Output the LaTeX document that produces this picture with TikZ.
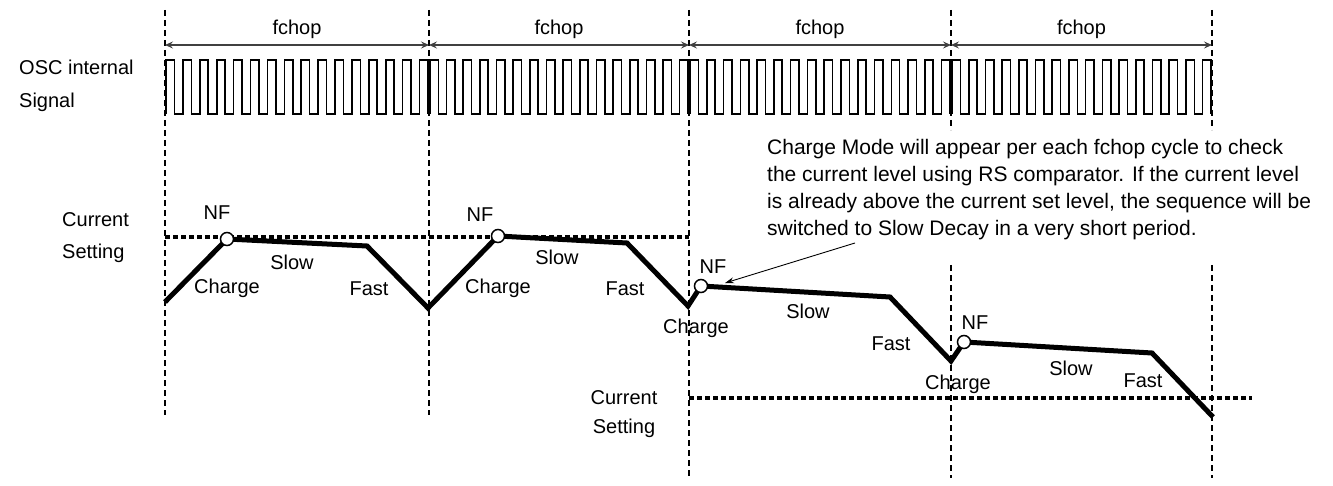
\documentclass[tikz,border=0pt]{standalone}
\usepackage{fontspec}
\setmainfont{Liberation Sans}
\usetikzlibrary{arrows.meta,
                positioning}

\begin{document}
\begin{tikzpicture}[
        x=1pt, y=-1pt,
        every node/.style={font=\fontsize{20}{24}\selectfont},
        sidetext/.style={font=\fontsize{20}{#1}\selectfont, align=left, inner sep=0pt},
        sidetext/.default=32,
        phase/.style={inner sep=0pt, anchor=base},
        divline/.style={line width=1.1pt, dash pattern=on 6pt off 4pt},
        chopspan/.style={{Stealth[length=8pt, width=7pt, inset=3pt]}-{Stealth[length=8pt, width=7pt, inset=3pt]}, line width=1.4pt, draw=black!75},
        oscwave/.style={line width=1.6pt},
        curve/.style={line width=5pt},
        setline/.style={line width=3.5pt, dash pattern=on 4.5pt off 3.5pt},
        nfmark/.style={circle, draw, fill=white, line width=1.5pt, minimum size=13pt, inner sep=0pt},
        notebox/.style={align=left, inner sep=0pt, font=\fontsize{21}{27}\selectfont},
        callout/.style={-{Stealth[length=9pt, width=6pt]}, line width=0.9pt}
        ]

        \useasboundingbox (0,0) rectangle (1333,486);

        % chop period boundaries
        \foreach \x/\yb in {165/415, 429/415, 689/478} {
            \draw [divline] (\x,10) -- (\x,\yb);
        }
        \foreach \x in {951, 1212} {
            \draw [divline] (\x,10) -- (\x,130);
            \draw [divline] (\x,265) -- (\x,478);
        }

        % fchop spans
        \coordinate (chop0) at (165,45);
        \coordinate (chop1) at (429,45);
        \coordinate (chop2) at (689,45);
        \coordinate (chop3) at (951,45);
        \coordinate (chop4) at (1212,45);
        \draw [chopspan] (chop0) -- node (fchop1) [anchor=base, yshift=10pt] {fchop} (chop1);
        \draw [chopspan] (chop1) -- node (fchop2) [anchor=base, yshift=10pt] {fchop} (chop2);
        \draw [chopspan] (chop2) -- node (fchop3) [anchor=base, yshift=10pt] {fchop} (chop3);
        \draw [chopspan] (chop3) -- node (fchop4) [anchor=base, yshift=10pt] {fchop} (chop4);

        % OSC internal signal
        \node (osc) [sidetext=33, anchor=west] at (19,85.5) {OSC internal\\Signal};
        \foreach \xa/\xb in {166/428, 430/688, 690/950, 952/1211} {
            \pgfmathsetmacro\halfw{(\xb-\xa)/31}
            \draw [oscwave] (\xa,114) foreach \k in {1,...,15} { -- ++(0,-54) -- ++(\halfw,0) -- ++(0,54) -- ++(\halfw,0) }
                -- ++(0,-54) -- ++(\halfw,0) -- ++(0,54);
        }

        % current setting levels
        \node (set1) [sidetext, anchor=west] at (62,238) {Current\\Setting};
        \node (set2) [sidetext=29, align=center] at (624,414.5) {Current\\Setting};
        \coordinate (lvl1a) at (165,237);
        \coordinate (lvl1b) at (689,237);
        \coordinate (lvl2a) at (689,398);
        \coordinate (lvl2b) at (1252,398);
        \draw [setline] (lvl1a) -- (lvl1b);
        \draw [setline] (lvl2a) -- (lvl2b);

        % coil current
        \coordinate (p0) at (165,302);
        \coordinate (p1) at (227,239);
        \coordinate (p2) at (367,246);
        \coordinate (p3) at (428,308);
        \coordinate (p4) at (498,236);
        \coordinate (p5) at (627,243);
        \coordinate (p6) at (688,306);
        \coordinate (p7) at (701,286);
        \coordinate (p8) at (890,297);
        \coordinate (p9) at (951,361);
        \coordinate (p10) at (964,342);
        \coordinate (p11) at (1152,353);
        \coordinate (p12) at (1213,417);
        \draw [curve] (p0) -- (p1) -- (p2) -- (p3) -- (p4) -- (p5) -- (p6)
            -- (p7) -- (p8) -- (p9) -- (p10) -- (p11) -- (p12);

        \node (nf1) [nfmark] at (p1) {};
        \node (nf2) [nfmark] at (p4) {};
        \node (nf3) [nfmark] at (p7) {};
        \node (nf4) [nfmark] at (p10) {};

        \node (nf1text) [phase] at (217,220) {NF};
        \node (nf2text) [phase] at (480,222) {NF};
        \node (nf3text) [phase] at (713,274) {NF};
        \node (nf4text) [phase] at (975,330) {NF};

        \node (charge1) [phase] at (227,294) {Charge};
        \node (slow1)   [phase] at (292,270) {Slow};
        \node (fast1)   [phase] at (369,295) {Fast};
        \node (charge2) [phase] at (498,294) {Charge};
        \node (slow2)   [phase] at (557,265) {Slow};
        \node (fast2)   [phase] at (625,295) {Fast};
        \node (charge3) [phase] at (696,334) {Charge};
        \node (slow3)   [phase] at (808,319) {Slow};
        \node (fast3)   [phase] at (891,350) {Fast};
        \node (charge4) [phase] at (958,389) {Charge};
        \node (slow4)   [phase] at (1071,375) {Slow};
        \node (fast4)   [phase] at (1143,387) {Fast};

        % note on charge mode
        \node (note) [notebox, anchor=west] at (767,189.5)
            {Charge Mode will appear per each fchop cycle to check\\
             the current level using RS comparator. If the current level\\
             is already above the current set level, the sequence will be\\
             switched to Slow Decay in a very short period.};
        \coordinate (notetip) at (855,243);
        \coordinate (nf3tip) at (725,283);
        \draw [callout] (notetip) -- (nf3tip);

    \end{tikzpicture}
\end{document}
